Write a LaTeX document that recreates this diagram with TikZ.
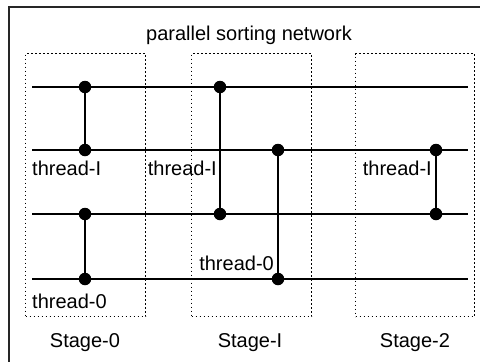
\documentclass[tikz,border=0pt]{standalone}
\usepackage{fontspec}
\setmainfont{Liberation Sans}
\begin{document}
\begin{tikzpicture}[x=1pt,y=-1pt,
  wire/.style={line width=1.5pt,black},
  cmp/.style={line width=2.6pt,black},
  dot/.style={circle,fill=black,inner sep=0pt,minimum size=12.5pt},
  stagebox/.style={draw,line width=1.3pt,dash pattern=on 1.3pt off 2.7pt},
  lbl/.style={inner sep=0pt,font=\fontsize{20}{22}\selectfont},
  frame/.style={line width=2pt,draw=black!85}]
\useasboundingbox (0,0) rectangle (480,362);
% frame
\coordinate (fa) at (9,364);
\coordinate (fb) at (9,7);
\coordinate (fc) at (482,7);
\draw[frame] (fa) -- (fb) -- (fc);
% title
\node[lbl,anchor=base] (title) at (249,40) {parallel sorting network};
% stage boxes
\node[stagebox,inner sep=0pt,minimum width=120pt,minimum height=263pt,anchor=north west] (s0) at (25,53) {};
\node[stagebox,inner sep=0pt,minimum width=120pt,minimum height=263pt,anchor=north west] (s1) at (191,53) {};
\node[stagebox,inner sep=0pt,minimum width=119pt,minimum height=263pt,anchor=north west] (s2) at (355,53) {};
% wires
\foreach \i/\y in {1/87,2/150,3/214,4/279}{
  \coordinate (w\i s) at (32,\y);
  \coordinate (w\i e) at (468,\y);
  \draw[wire] (w\i s) -- (w\i e);
}
% comparators
\node[dot] (a1) at (85,87) {};
\node[dot] (a2) at (85,150) {};
\node[dot] (b1) at (85,214) {};
\node[dot] (b2) at (85,279) {};
\node[dot] (c1) at (220,87) {};
\node[dot] (c2) at (220,214) {};
\node[dot] (d1) at (278,150) {};
\node[dot] (d2) at (278,279) {};
\node[dot] (e1) at (436,150) {};
\node[dot] (e2) at (436,214) {};
\draw[cmp] (a1.center) -- (a2.center);
\draw[cmp] (b1.center) -- (b2.center);
\draw[cmp] (c1.center) -- (c2.center);
\draw[cmp] (d1.center) -- (d2.center);
\draw[cmp] (e1.center) -- (e2.center);
% labels
\node[lbl,anchor=base west] (t1) at (32,175) {thread-I};
\node[lbl,anchor=base east] (t2) at (217,175) {thread-I};
\node[lbl,anchor=base east] (t3) at (432,175) {thread-I};
\node[lbl,anchor=base west] (t4) at (32,308) {thread-0};
\node[lbl,anchor=base east] (t5) at (274,270) {thread-0};
\node[lbl,anchor=base] (g0) at (85,347) {Stage-0};
\node[lbl,anchor=base] (g1) at (250,347) {Stage-I};
\node[lbl,anchor=base] (g2) at (415,347) {Stage-2};
\end{tikzpicture}
\end{document}
